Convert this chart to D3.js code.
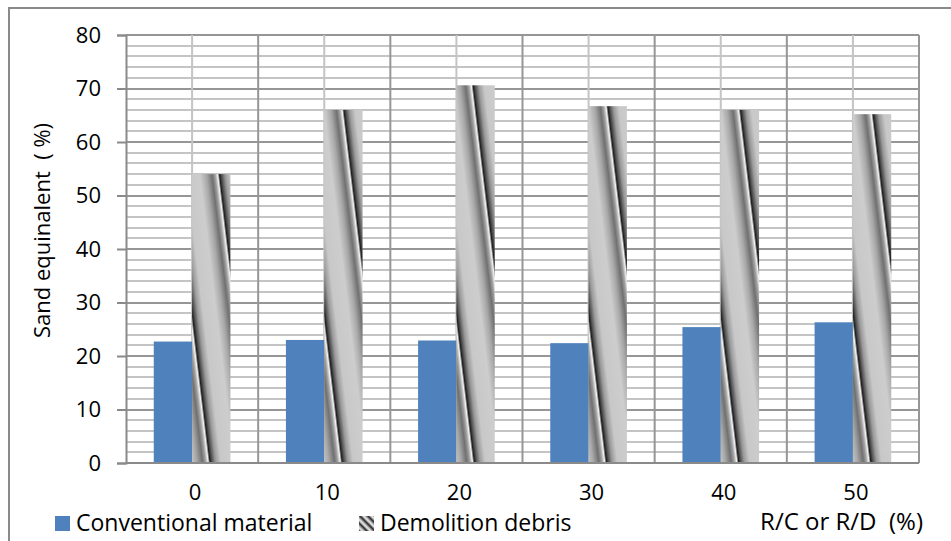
<!DOCTYPE html>
<html lang="en">
<head>
  <meta charset="utf-8">
  <title>Sand equivalent</title>
  <script src="https://d3js.org/d3.v7.min.js"></script>
  <style>
    body { margin: 0; background: #fff; }
    #chart text { font-family: "Open Sans", sans-serif; fill: #000; white-space: pre; }
  </style>
</head>
<body>
  <div id="chart"></div>
  <script>
    "use strict"

    // dados
    var categorias = ["0", "10", "20", "30", "40", "50"];
    var convencional = [22.7, 23.0, 22.9, 22.4, 25.4, 26.3];
    var demolicao = [54.0, 66.0, 70.6, 66.7, 66.0, 65.2];
    var ticksY = [0, 10, 20, 30, 40, 50, 60, 70, 80];
    var series = ["Conventional material", "Demolition debris"];

    var largura = 951, altura = 541;
    var margin = {top: 35, right: 32, bottom: 78, left: 126};
    var base = altura - margin.bottom; // 463

    var svg = d3.select("#chart").append("svg")
      .attr("width", largura)
      .attr("height", altura);
    var defs = svg.append("defs");

    var x = d3.scaleBand().domain(categorias).range([margin.left, largura - margin.right]);
    var y = d3.scaleLinear().domain([0, 80]).range([base, margin.top]);
    var barW = x.bandwidth() * 0.29;

    // moldura externa
    svg.append("path")
      .attr("d", "M9,541 L9,8 L951,8")
      .attr("fill", "none").attr("stroke", "#8a8a8a").attr("stroke-width", 2);

    // grade horizontal (menor a cada 2, maior a cada 10)
    var grade = svg.append("g");
    grade.selectAll("line.h")
      .data(d3.range(2, 81, 2))
      .enter().append("line")
        .attr("x1", margin.left).attr("x2", largura - margin.right)
        .attr("y1", d => Math.round(y(d))).attr("y2", d => Math.round(y(d)))
        .attr("stroke", d => d % 10 === 0 ? "#969696" : "#c4c4c4")
        .attr("stroke-width", 2);
    // grade vertical: limites das categorias e centros
    grade.selectAll("line.v")
      .data(categorias)
      .enter().append("line")
        .attr("x1", d => x(d) + x.bandwidth() / 2).attr("x2", d => x(d) + x.bandwidth() / 2)
        .attr("y1", margin.top).attr("y2", base)
        .attr("stroke", "#c4c4c4").attr("stroke-width", 2);
    grade.selectAll("line.b")
      .data(categorias)
      .enter().append("line")
        .attr("x1", d => x(d) + x.bandwidth()).attr("x2", d => x(d) + x.bandwidth())
        .attr("y1", margin.top).attr("y2", base)
        .attr("stroke", "#969696").attr("stroke-width", 2);

    // textura das barras de demolicao: gradiente repetido e inclinado
    var paradas = [
      [0, "#1e1e1e"], [0.05, "#555"], [0.13, "#9a9a9a"], [0.25, "#c8c8c8"],
      [0.55, "#cdcdcd"], [0.7, "#a8a8a8"], [0.83, "#707070"], [0.9, "#a0a0a0"],
      [0.96, "#f4f4f4"], [1, "#1e1e1e"]
    ];
    var inclin = 0.12, periodo = 44;
    var nrm = Math.sqrt(1 + inclin * inclin);
    function textura(id, x0, y0, p) {
      var g = defs.append("linearGradient")
        .attr("id", id)
        .attr("gradientUnits", "userSpaceOnUse")
        .attr("spreadMethod", "repeat")
        .attr("x1", x0).attr("y1", y0)
        .attr("x2", x0 + p / nrm).attr("y2", y0 - p * inclin / nrm);
      g.selectAll("stop").data(paradas).enter().append("stop")
        .attr("offset", d => d[0]).attr("stop-color", d => d[1]);
    }
    categorias.forEach(function(c, i) {
      var cx = x(c) + x.bandwidth() / 2;
      textura("tex" + i, cx + 18, base, periodo * Math.cos(Math.atan(inclin)));
    });

    // barras
    svg.append("g").selectAll("rect")
      .data(convencional)
      .enter().append("rect")
        .attr("x", (d, i) => x(categorias[i]) + x.bandwidth() / 2 - barW)
        .attr("y", d => y(d))
        .attr("width", barW)
        .attr("height", d => base - y(d))
        .attr("fill", "#4f81bd");
    svg.append("g").selectAll("rect")
      .data(demolicao)
      .enter().append("rect")
        .attr("x", (d, i) => x(categorias[i]) + x.bandwidth() / 2)
        .attr("y", d => y(d))
        .attr("width", barW)
        .attr("height", d => base - y(d))
        .attr("fill", (d, i) => "url(#tex" + i + ")");

    // eixos
    var eixoY = svg.append("g")
      .attr("transform", "translate(" + margin.left + ",0)")
      .call(d3.axisLeft(y).tickValues(ticksY).tickSize(9).tickPadding(16).tickFormat(d3.format("d")));
    eixoY.select(".domain").attr("stroke", "#8a8a8a").attr("stroke-width", 2);
    eixoY.selectAll(".tick line").attr("stroke", "#8a8a8a").attr("stroke-width", 2);
    eixoY.selectAll(".tick text").style("font-size", "22px");

    svg.append("line")
      .attr("x1", margin.left).attr("x2", largura - margin.right)
      .attr("y1", base).attr("y2", base)
      .attr("stroke", "#8a8a8a").attr("stroke-width", 2);
    svg.append("g").selectAll("text")
      .data(categorias)
      .enter().append("text")
        .attr("x", d => x(d) + x.bandwidth() / 2 + 3)
        .attr("y", 500)
        .attr("text-anchor", "middle")
        .style("font-size", "22px")
        .text(d => d);

    // titulos
    svg.append("text")
      .attr("transform", "translate(50,338) rotate(-90)")
      .style("font-size", "22px")
      .text("Sand equinalent  ( %)");
    svg.append("text")
      .attr("x", 923).attr("y", 530)
      .attr("text-anchor", "end")
      .style("font-size", "24px")
      .text("R/C or R/D  (%)");

    // legenda
    defs.append("linearGradient")
      .attr("id", "texLeg")
      .attr("gradientUnits", "userSpaceOnUse")
      .attr("spreadMethod", "repeat")
      .attr("x1", 359).attr("y1", 520).attr("x2", 363).attr("y2", 516)
      .selectAll("stop").data([[0, "#fff"], [0.4, "#888"], [0.6, "#222"], [1, "#ddd"]])
      .enter().append("stop")
        .attr("offset", d => d[0]).attr("stop-color", d => d[1]);
    var legenda = svg.append("g");
    var legX = [55, 359];
    legenda.selectAll("rect")
      .data(series)
      .enter().append("rect")
        .attr("x", (d, i) => legX[i]).attr("y", 516)
        .attr("width", 15).attr("height", 15)
        .attr("fill", (d, i) => i === 0 ? "#4f81bd" : "url(#texLeg)");
    legenda.selectAll("text")
      .data(series)
      .enter().append("text")
        .attr("x", (d, i) => legX[i] + 21).attr("y", 531)
        .style("font-size", "23px")
        .text(d => d);
  </script>
</body>
</html>
